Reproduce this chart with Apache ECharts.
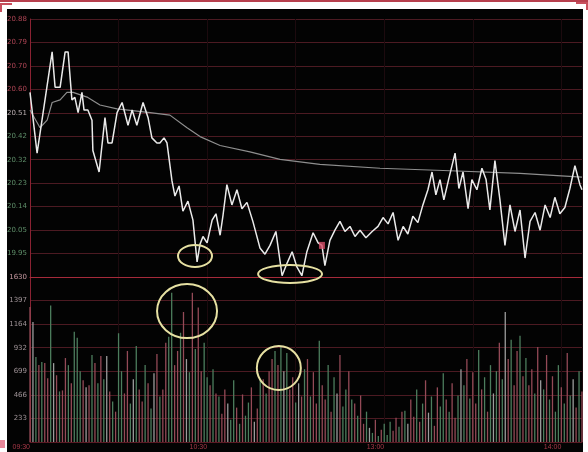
<!DOCTYPE html>
<html>
<head>
<meta charset="utf-8">
<script src="https://cdn.jsdelivr.net/npm/echarts@6/dist/echarts.min.js"></script>
<style>
html,body{margin:0;padding:0;background:#fff;}
#chart{width:588px;height:452px;}
</style>
</head>
<body>
<div id="chart"></div>
<script>
// price line, minute from 09:30 -> price
var priceT = [0,2.4,7.5,8.5,10.2,11.9,12.9,14.2,15.2,16.3,17.6,18.3,19.6,21.0,21.3,23.4,25.4,26.4,27.8,29.5,31.2,33.2,34.6,36.2,38.3,40.0,41.3,43.0,44.0,45.4,46.4,48.1,49.1,50.5,51.8,53.5,55.2,56.6,57.6,58.6,60.0,61.7,63.0,64.4,65.4,66.7,68.4,70.1,71.8,73.5,75.5,77.9,79.6,81.3,83.3,85.4,87.1,88.8,90.4,92.1,93.8,95.9,97.6,98.9,99.9,101.6,103.3,105.0,106.7,108.4,110.1,111.8,113.8,115.9,117.9,119.6,121.3,123.0,124.7,126.4,128.0,129.7,131.4,133.1,134.8,136.2,137.5,138.9,140.2,141.9,144.0,145.3,146.7,148.4,149.7,151.4,153.1,154.5,155.8,157.5,159.2,160.9,162.6,164.3,166.0,167.7,169.4,171.1,172.8,174.5,176.2,177.8,179.5,181.2,182.9,184.6,186.3,187];
var price = [20.59,20.35,20.75,20.61,20.61,20.75,20.75,20.56,20.57,20.51,20.59,20.52,20.52,20.48,20.36,20.275,20.49,20.39,20.39,20.51,20.55,20.46,20.52,20.46,20.55,20.49,20.41,20.39,20.39,20.41,20.39,20.24,20.18,20.22,20.12,20.16,20.085,19.92,19.99,20.02,19.995,20.085,20.11,20.025,20.105,20.225,20.145,20.205,20.13,20.155,20.08,19.975,19.95,19.985,20.04,19.865,19.915,19.96,19.90,19.865,19.96,20.035,19.995,19.985,19.905,20.005,20.045,20.08,20.04,20.06,20.02,20.045,20.015,20.04,20.06,20.095,20.07,20.115,20.005,20.06,20.03,20.10,20.075,20.145,20.205,20.275,20.185,20.245,20.165,20.25,20.35,20.21,20.275,20.13,20.245,20.205,20.29,20.245,20.125,20.32,20.165,19.985,20.145,20.04,20.125,19.935,20.08,20.115,20.045,20.145,20.095,20.175,20.11,20.135,20.21,20.30,20.225,20.205];
// average price line
var avgT = [0,3.4,5.8,7.5,10.2,12.5,14.6,19.6,23.7,29.5,40.7,47.4,53.2,57.6,64.4,74.5,84.7,98.2,118.6,142.3,166.0,187];
var avgPrice = [20.52,20.45,20.48,20.55,20.56,20.59,20.59,20.57,20.54,20.525,20.51,20.50,20.45,20.415,20.38,20.355,20.325,20.305,20.29,20.28,20.27,20.255];
// volume per minute
var volume = [1335,1185,840,760,790,780,630,1350,780,660,500,510,830,760,580,1090,1030,700,610,540,560,860,780,580,850,620,850,500,400,300,1075,
  700,480,900,380,620,950,520,400,760,580,330,680,870,450,520,980,
  1040,1475,760,900,1080,1285,820,690,1475,920,1330,700,980,640,560,720,480,
  450,280,520,380,220,610,340,180,470,260,390,540,200,330,610,
  620,480,700,820,900,760,940,700,880,520,640,390,580,450,720,
  820,450,690,380,1000,560,420,760,300,640,480,860,350,520,700,
  420,380,260,460,180,300,140,90,220,60,120,180,70,200,110,
  240,150,300,310,180,420,250,520,200,380,610,290,450,160,540,
  350,680,420,300,580,240,460,720,560,820,430,690,380,910,520,640,300,
  760,480,700,980,620,1285,820,1010,560,900,1050,650,830,560,720,
  480,940,610,520,860,420,650,300,760,540,380,880,460,620,340,700,500];
var volDir = ('rwgrgrrgwr grrgrgggrw rgrgrgwrgr ggrrgwgrrg rgwrgrrggr rgrwgrgrrg grgrgrrwgg ' +
  'rgrggrwrgr grrgrgwgrr gwrgrgrrgr rgrgwrggrg rgrrgwgrgr gggrrgrgwr rgrgrwgrrg ' +
  'grgrrgwgrg rrgrgrgwgr gwrgrrgrgr rgrwgrgrgg rgrgwrgr').replace(/ /g, '');
var priceLabels = ['', '19.95', '20.05', '20.14', '20.23', '20.32', '20.42', '20.51', '20.60', '20.70', '20.79', '20.88'];
var volLabels = ['', '233', '466', '699', '932', '1164', '1397', '1630'];
var timeLabels = {0: '09:30', 60: '10:30', 120: '13:00', 180: '14:00'};
var priceLo = 19.86, priceHi = 20.88;
var marked = [98.9, 19.985];
// annotation circles: [minute, value, rx, ry, grid]
var circles = [[55.9, 19.943, 17, 11, 0], [88.1, 19.872, 32, 9, 0], [53.2, 1294, 30, 27, 1], [84.3, 731, 22, 22, 1]];

var step = (priceHi - priceLo) / 11;
function toAxis(p) { return (p - priceLo) / step; }
var dirColor = {r: '#944a57', g: '#4c7d5d', w: '#9c9c9c'};

var chart = echarts.init(document.getElementById('chart'));
var bg = [
  {id: 'bg', type: 'rect', shape: {x: 7, y: 9, width: 576, height: 443}, style: {fill: '#030303'}, z: -10, silent: true},
  {id: 'top', type: 'rect', shape: {x: 0, y: 0, width: 588, height: 2}, style: {fill: '#b8404e'}, z: -10},
  {id: 'tl', type: 'polyline', shape: {points: [[1, 12], [1, 4], [12, 4]]}, style: {stroke: '#c8505e', lineWidth: 2, fill: null}},
  {id: 'tr', type: 'polyline', shape: {points: [[576, 3], [587, 3], [587, 10]]}, style: {stroke: '#c8505e', lineWidth: 2, fill: null}},
  {id: 'bl', type: 'rect', shape: {x: 0, y: 440, width: 5, height: 8}, style: {fill: '#e8889a'}}
];

chart.setOption({
  backgroundColor: '#ffffff',
  animation: false,
  graphic: bg,
  grid: [
    {left: 30, right: 6, top: 19, height: 258},
    {left: 30, right: 6, top: 277, height: 165}
  ],
  xAxis: [
    {type: 'value', gridIndex: 0, min: 0, max: 187, interval: 30,
      axisLine: {show: true, onZero: false, lineStyle: {color: '#a52a3a', width: 1.2}},
      axisTick: {show: false}, axisLabel: {show: false},
      splitLine: {show: true, lineStyle: {color: '#1c0a0e', width: 1}}},
    {type: 'value', gridIndex: 1, min: 0, max: 187, interval: 30,
      axisLine: {show: true, onZero: false, lineStyle: {color: '#5a1a24'}},
      axisTick: {show: false},
      axisLabel: {color: '#a83848', fontSize: 7, align: 'right', margin: 2, showMaxLabel: false,
        formatter: function (v) { return timeLabels[v] || ''; }},
      splitLine: {show: true, lineStyle: {color: '#1c0a0e', width: 1}}}
  ],
  yAxis: [
    {type: 'value', gridIndex: 0, min: 0, max: 11, interval: 1,
      axisLine: {show: true, lineStyle: {color: '#8a2232'}}, axisTick: {show: false},
      axisLabel: {fontSize: 7, margin: 3, fontFamily: 'DejaVu Sans',
        formatter: function (v) { return priceLabels[Math.round(v)]; },
        color: function (v) { var k = Math.round(v); return k >= 8 ? '#b04656' : (k == 7 ? '#bdb2b4' : '#5f8f6a'); }},
      splitLine: {lineStyle: {color: '#4c1a22', width: 1}}},
    {type: 'value', gridIndex: 1, min: 0, max: 1631, interval: 233,
      axisLine: {show: true, lineStyle: {color: '#8a2232'}}, axisTick: {show: false},
      axisLabel: {fontSize: 7, margin: 3, fontFamily: 'DejaVu Sans',
        formatter: function (v) { return volLabels[Math.round(v / 233)]; },
        color: function (v) { return Math.round(v / 233) == 7 ? '#c89aa2' : '#a09498'; }},
      splitLine: {lineStyle: {color: '#4c1a22', width: 1}}}
  ],
  series: [
    {type: 'bar', xAxisIndex: 1, yAxisIndex: 1, barWidth: 1.3,
      data: volume.map(function (v, i) { return {value: [i, v], itemStyle: {color: dirColor[volDir[i]] || '#944a57'}}; })},
    {type: 'line', xAxisIndex: 0, yAxisIndex: 0, showSymbol: false, z: 3,
      lineStyle: {color: '#8e8e8e', width: 1.2},
      data: avgT.map(function (t, i) { return [t, toAxis(avgPrice[i])]; })},
    {type: 'line', xAxisIndex: 0, yAxisIndex: 0, showSymbol: false, z: 4,
      lineStyle: {color: '#eaeaea', width: 1.5},
      data: priceT.map(function (t, i) { return [t, toAxis(price[i])]; })},
    {type: 'scatter', xAxisIndex: 0, yAxisIndex: 0, symbol: 'rect', symbolSize: [6, 7], z: 5,
      itemStyle: {color: '#d9506a'}, data: [[marked[0], toAxis(marked[1])]]}
  ]
});

var rings = circles.map(function (c, k) {
  var val = c[4] == 0 ? toAxis(c[1]) : c[1];
  var pt = chart.convertToPixel({gridIndex: c[4]}, [c[0], val]);
  return {id: 'ring' + k, type: 'ellipse', z: 10,
    shape: {cx: pt[0], cy: pt[1], rx: c[2], ry: c[3]},
    style: {fill: null, stroke: '#e6e0a2', lineWidth: 2}};
});
chart.setOption({graphic: bg.concat(rings)});
</script>
</body>
</html>
